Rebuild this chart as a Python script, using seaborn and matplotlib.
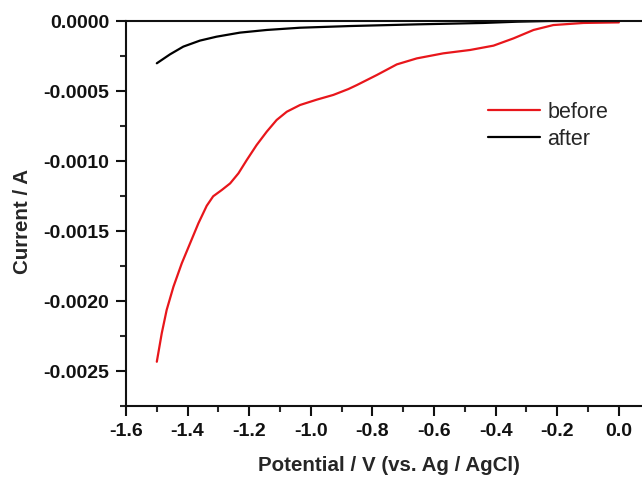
import numpy as np
import pandas as pd
import matplotlib
matplotlib.use("Agg")
import matplotlib.pyplot as plt
import seaborn as sns
from matplotlib.ticker import FixedLocator, FormatStrFormatter

# ---- data ----
before_x = [-1.500, -1.484, -1.468, -1.446, -1.419, -1.392, -1.365, -1.338, -1.317,
            -1.289, -1.262, -1.235, -1.208, -1.176, -1.143, -1.111, -1.078, -1.035,
            -0.981, -0.927, -0.878, -0.851, -0.786, -0.721, -0.656, -0.570, -0.483,
            -0.407, -0.342, -0.277, -0.213, -0.115, 0.0]
before_y = [-0.002434, -0.002231, -0.002064, -0.001898, -0.001731, -0.001588, -0.001445,
            -0.001320, -0.001252, -0.001207, -0.001160, -0.001088, -0.000993, -0.000886,
            -0.000790, -0.000707, -0.000648, -0.000600, -0.000562, -0.000528, -0.000486,
            -0.000458, -0.000386, -0.000310, -0.000267, -0.000231, -0.000207, -0.000176,
            -0.000124, -0.000064, -0.000029, -0.000014, -0.000010]

after_x = [-1.500, -1.457, -1.414, -1.360, -1.306, -1.230, -1.143, -1.035, -0.873,
           -0.656, -0.440, -0.331, -0.223, 0.0]
after_y = [-0.000302, -0.000238, -0.000183, -0.000140, -0.000112, -0.000083, -0.000064,
           -0.000048, -0.000036, -0.000024, -0.000014, -0.000005, 0.0, 0.0]

x_ticks = [-1.6, -1.4, -1.2, -1.0, -0.8, -0.6, -0.4, -0.2, 0.0]
y_ticks = [0.0, -0.0005, -0.0010, -0.0015, -0.0020, -0.0025]

df = pd.concat([
    pd.DataFrame({"x": before_x, "y": before_y, "series": "before"}),
    pd.DataFrame({"x": after_x, "y": after_y, "series": "after"}),
], ignore_index=True)

sns.set_style("ticks")
plt.rcParams["font.family"] = ["Liberation Sans", "DejaVu Sans"]

W, H = 642, 479
fig = plt.figure(figsize=(W / 100, H / 100), dpi=100)
ax = fig.add_axes([126 / W, 1 - 406 / H, (W - 126) / W, (406 - 21) / H])

sns.lineplot(data=df, x="x", y="y", hue="series", sort=False, estimator=None,
             palette={"before": "#e8161b", "after": "#000000"}, linewidth=1.6, ax=ax)
for ln in ax.get_lines():
    ln.set_solid_joinstyle("round")
    ln.set_solid_capstyle("round")

ax.set_xlim(-1.6, 0.075)
ax.set_ylim(-0.00275, 0.0)

ax.xaxis.set_major_locator(FixedLocator(x_ticks))
ax.xaxis.set_minor_locator(FixedLocator([-1.5, -1.3, -1.1, -0.9, -0.7, -0.5, -0.3, -0.1]))
ax.yaxis.set_major_locator(FixedLocator(y_ticks))
ax.yaxis.set_minor_locator(FixedLocator([-0.00025, -0.00075, -0.00125, -0.00175, -0.00225, -0.00275]))
ax.xaxis.set_major_formatter(FormatStrFormatter("%.1f"))
ax.yaxis.set_major_formatter(FormatStrFormatter("%.4f"))

ax.tick_params(which="major", length=7, width=1.5, direction="out", pad=5,
               labelsize=14, colors="#111111")
ax.tick_params(which="minor", length=4, width=1.5, direction="out")
for lab in ax.get_xticklabels() + ax.get_yticklabels():
    lab.set_fontweight("bold")

for s in ["left", "bottom", "top"]:
    ax.spines[s].set_linewidth(1.5)
    ax.spines[s].set_color("#111111")
ax.spines["right"].set_visible(False)

ax.set_xlabel("Potential / V (vs. Ag / AgCl)", fontsize=14.8, fontweight="bold")
ax.set_ylabel("Current / A", fontsize=14.8, fontweight="bold")
ax.xaxis.set_label_coords((389 - 126) / (W - 126), (406 - 456) / 385)
ax.yaxis.set_label_coords((32 - 126) / (W - 126), (406 - 221) / 385)

handles, labels = ax.get_legend_handles_labels()
ax.legend(handles, labels, loc="upper left", bbox_to_anchor=(488 / W, 1 - 102 / H),
          bbox_transform=fig.transFigure, frameon=False, fontsize=15.5,
          handlelength=2.4, handletextpad=0.35, labelspacing=0.28,
          borderpad=0, borderaxespad=0)

fig.savefig("out.png", dpi=100)
